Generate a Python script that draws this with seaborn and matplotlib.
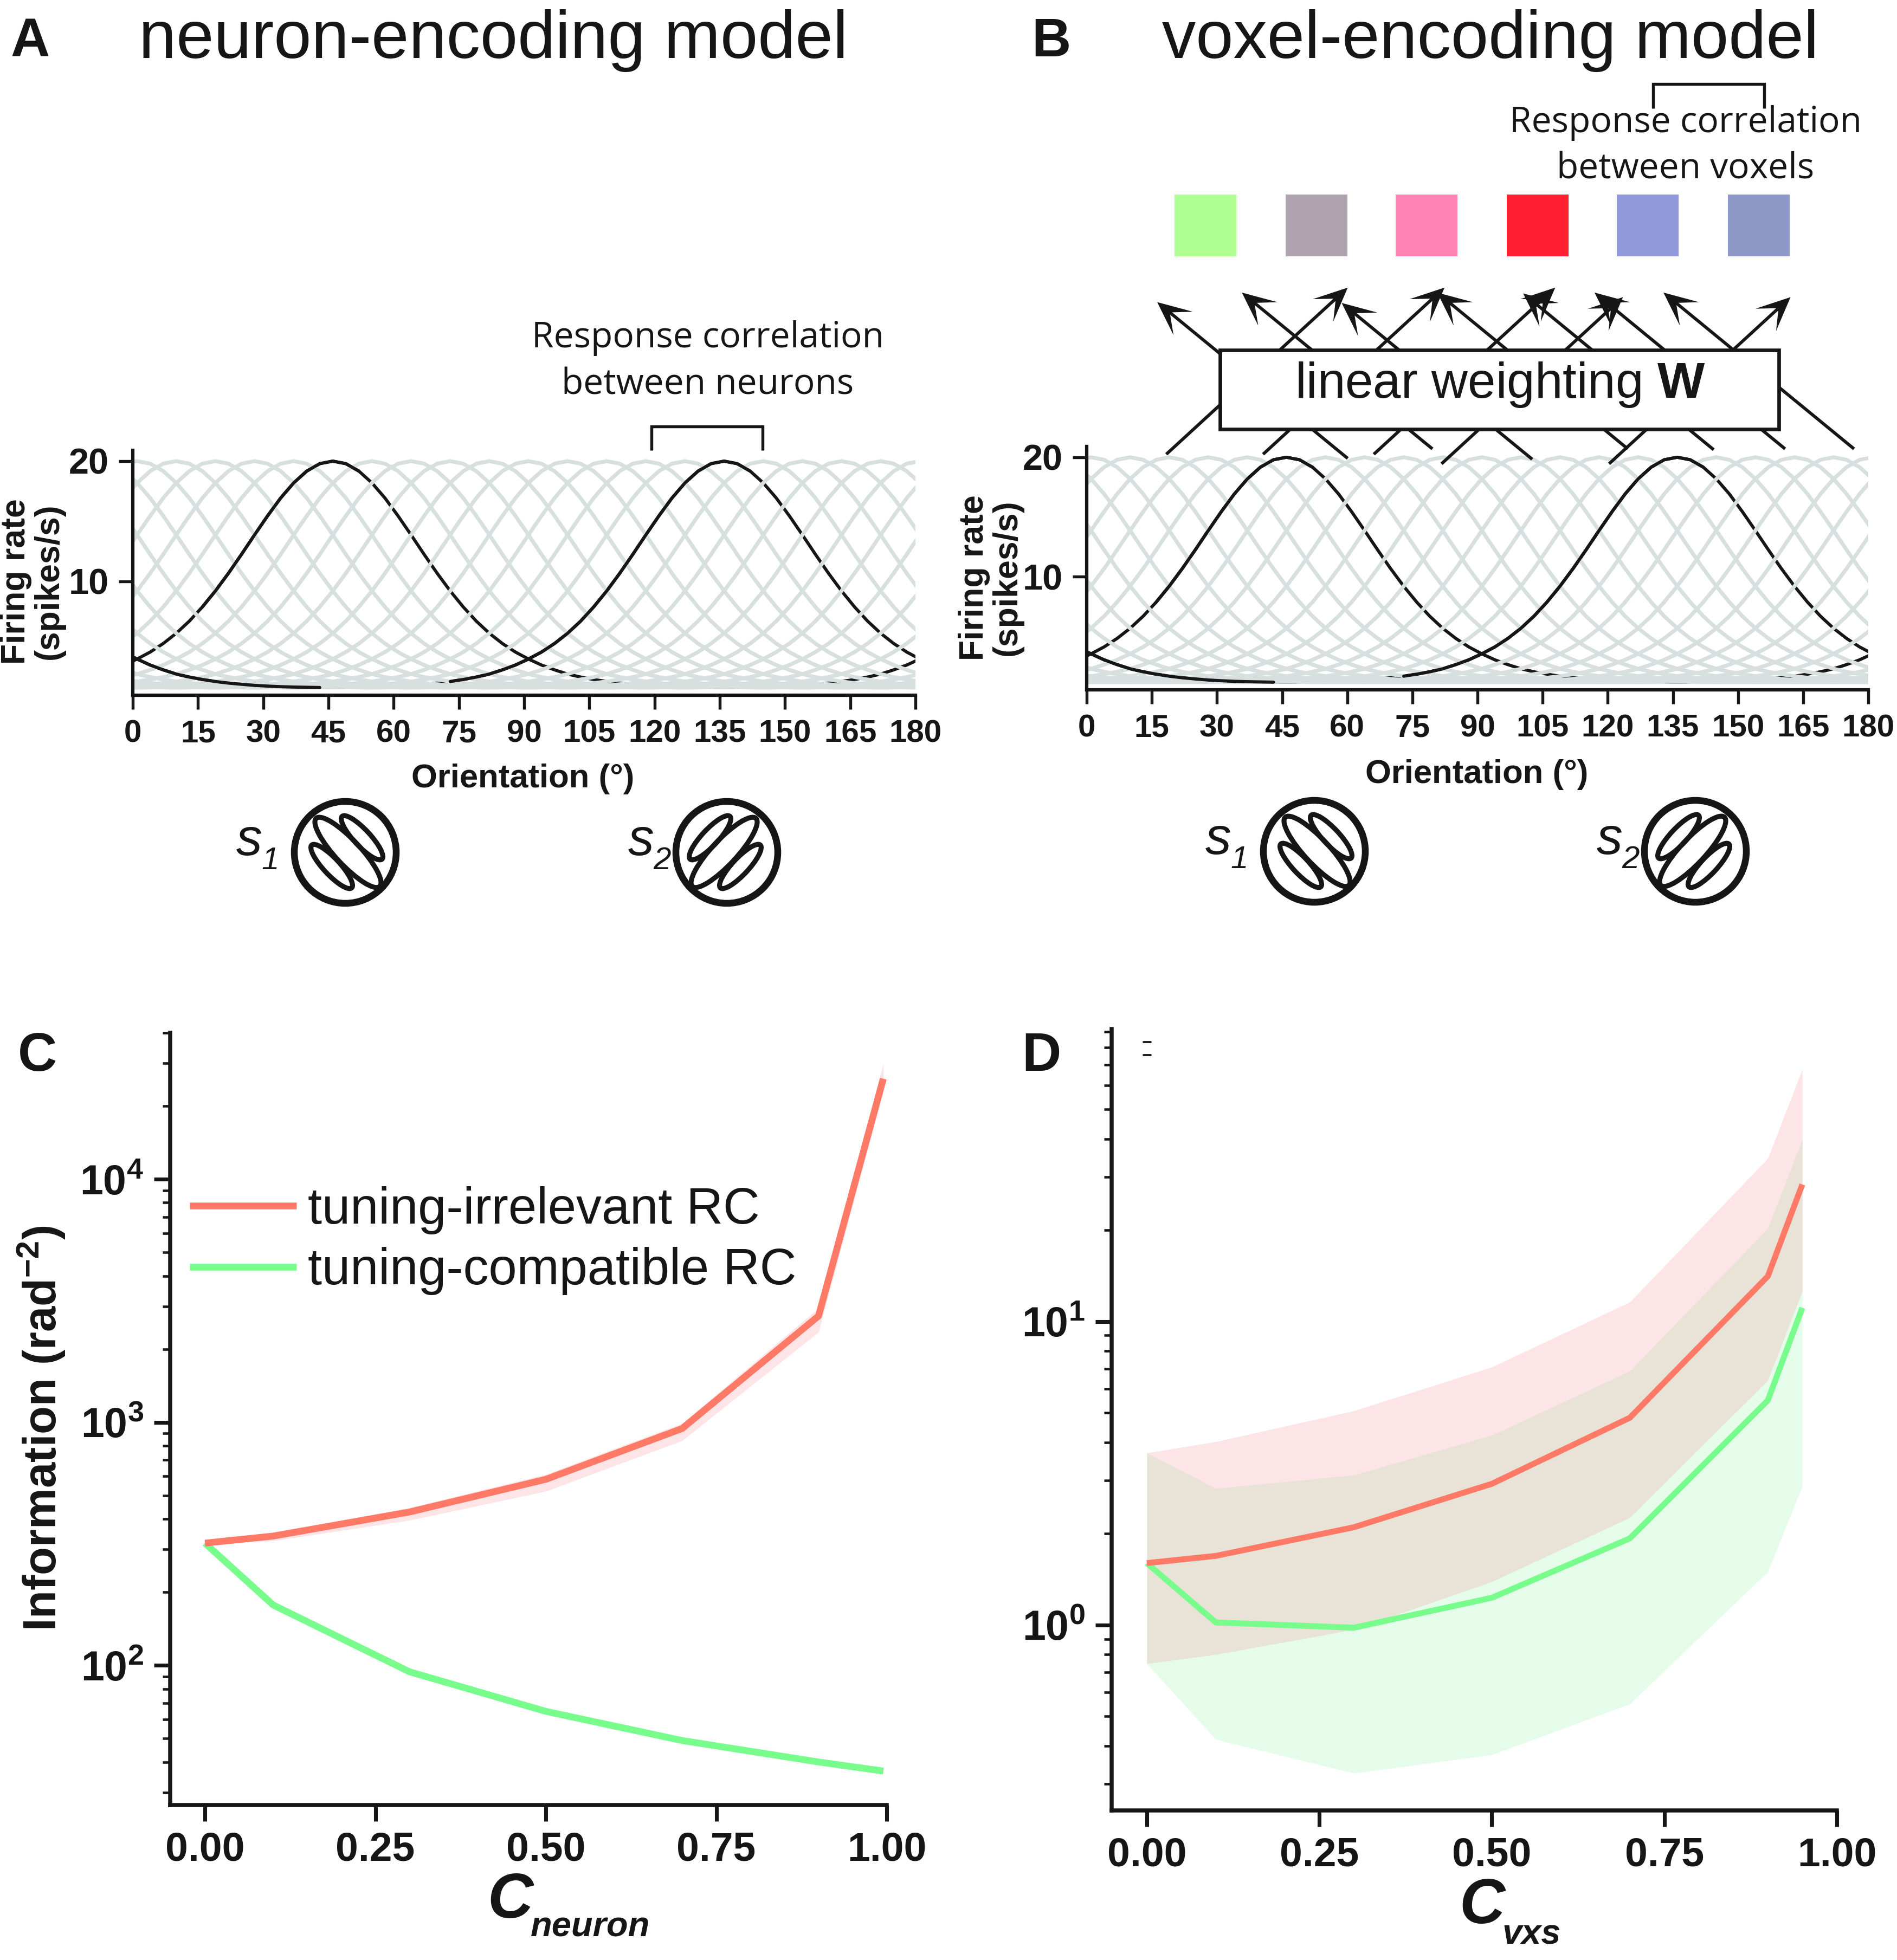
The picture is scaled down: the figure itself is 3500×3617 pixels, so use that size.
import numpy as np
import pandas as pd
import matplotlib
matplotlib.use("Agg")
import matplotlib.pyplot as plt
import seaborn as sns
from matplotlib.patches import Circle, Ellipse, Polygon, Rectangle
from matplotlib.ticker import LogLocator, NullFormatter

# values
tuning_offset = [0, 3, 6, 9, 12, 15, 18, 21, 24, 27, 30, 33, 36, 39, 42, 45,
                 48, 51, 54, 57, 60, 63, 66, 69, 72, 75, 78, 81, 84, 87, 90]
tuning_rate = [20.0, 19.79, 19.17, 18.19, 16.93, 15.45, 13.87, 12.25, 10.68, 9.21, 7.88,
               6.70, 5.69, 4.84, 4.13, 3.55, 3.05, 2.65, 2.30, 2.05, 1.85, 1.68, 1.55,
               1.45, 1.36, 1.30, 1.25, 1.22, 1.20, 1.18, 1.17]
gray_centres = [1, 10, 19, 28, 37, 55, 64, 73, 82, 91, 100, 109, 118, 127, 145, 154, 163, 172]
black_centres = [46, 136]
orientation_ticks = [0, 15, 30, 45, 60, 75, 90, 105, 120, 135, 150, 165, 180]

c_neuron = [0, 0.1, 0.3, 0.5, 0.7, 0.9, 0.995]
info_irrelevant = [318, 340, 427, 582, 942, 2735, 25900]
info_irrelevant_low = [318, 325, 395, 520, 840, 2350, 23000]
info_irrelevant_high = [318, 350, 445, 610, 990, 2950, 30000]
info_compatible = [318, 177, 94, 64.6, 49, 40, 36.7]
info_compatible_low = [318, 175, 93, 63.8, 48.4, 39.5, 36.2]
info_compatible_high = [318, 179, 95, 65.4, 49.6, 40.5, 37.2]

c_vxs = [0, 0.1, 0.3, 0.5, 0.7, 0.9, 0.95]
vxs_irrelevant = [1.6, 1.69, 2.1, 2.92, 4.82, 14.1, 28.3]
vxs_irrelevant_low = [0.746, 0.80, 0.966, 1.39, 2.26, 6.4, 12.6]
vxs_irrelevant_high = [3.69, 4.02, 5.08, 7.08, 11.6, 34.5, 68]
vxs_compatible = [1.6, 1.02, 0.98, 1.23, 1.93, 5.5, 11.1]
vxs_compatible_low = [0.746, 0.42, 0.325, 0.374, 0.55, 1.5, 2.88]
vxs_compatible_high = [3.69, 2.82, 3.12, 4.22, 6.87, 20.3, 39.8]

c_ticks = [0, 0.25, 0.5, 0.75, 1.0]
c_ticklabels = ["0.00", "0.25", "0.50", "0.75", "1.00"]
voxel_colors = ["#B0FF92", "#AFA4AF", "#FF82B2", "#FF1F33", "#9198DA", "#8F99C8"]

W, H = 3500, 3617
INK = "#161616"
GRAY = "#D7E0DE"
RED = "#FF7A66"
GREEN = "#78FC8C"

sns.set_theme(style="ticks")
plt.rcParams["font.family"] = ["Liberation Sans", "DejaVu Sans"]
plt.rcParams["mathtext.fontset"] = "custom"
plt.rcParams["mathtext.rm"] = "Liberation Sans"
plt.rcParams["mathtext.it"] = "Liberation Sans:italic"
plt.rcParams["mathtext.bf"] = "Liberation Sans:bold"
plt.rcParams["text.color"] = INK
plt.rcParams["axes.labelcolor"] = INK

fig = plt.figure(figsize=(W / 300, H / 300), dpi=300)


def px_axes(left, right, top, bottom):
    return fig.add_axes([left / W, 1 - bottom / H, (right - left) / W, (bottom - top) / H])


def curve_points(centre):
    # whole profile around the centre, repeated so it wraps over 0 and 180
    rate = np.array(tuning_rate[:0:-1] + tuning_rate)
    offset = np.array([-o for o in tuning_offset[:0:-1]] + tuning_offset)
    x = np.concatenate([centre + offset + s for s in (-180, 0, 180)])
    y = np.concatenate([rate, rate, rate])
    return x, y


def draw_curve(ax, x, y, color, lw, zorder):
    sns.lineplot(x=x, y=y, ax=ax, color=color, lw=lw, zorder=zorder,
                 estimator=None, sort=False, legend=False)


def tuning_panel(box, ylabel_xy, xlabel_xy):
    ax = px_axes(*box)
    for c in black_centres:
        x, y = curve_points(c)
        draw_curve(ax, x, y, INK, 1.4, 1)
    for c in gray_centres:
        x, y = curve_points(c)
        draw_curve(ax, x, y, GRAY, 1.7, 2)
    # parts of the black curves that lie over the gray ones
    for c, spans in zip(black_centres, [[(14, 52)], [(0, 44), (72, 142)]]):
        x, y = curve_points(c)
        for lo, hi in spans:
            keep = (x >= lo) & (x <= hi)
            draw_curve(ax, x[keep], y[keep], INK, 1.4, 3)
    ax.set_xlim(0, 180)
    ax.set_ylim(0.54, 20.9)
    ax.set_xticks(orientation_ticks)
    ax.set_yticks([10, 20])
    ax.tick_params(axis="both", length=6.2, width=1.3, color=INK, pad=4.5, labelcolor=INK)
    ax.set_xticklabels([str(t) for t in orientation_ticks], fontsize=14, fontweight="bold")
    ax.set_yticklabels(["10", "20"], fontsize=16, fontweight="bold")
    ax.set_xlabel("Orientation (°)", fontsize=14.8, fontweight="bold", va="center")
    ax.set_ylabel("Firing rate\n(spikes/s)", fontsize=15, fontweight="bold", linespacing=1.05, va="center")
    ax.xaxis.set_label_coords(*xlabel_xy, transform=overlay.transData)
    ax.yaxis.set_label_coords(*ylabel_xy, transform=overlay.transData)
    for s in ("left", "bottom"):
        ax.spines[s].set_linewidth(1.5)
        ax.spines[s].set_color(INK)
    sns.despine(ax=ax)
    return ax


def info_panel(box, x, lines, xlim, ylim, yticks, yticklabels, c_xy, sub, sub_xy, lw):
    ax = px_axes(*box)
    for y, low, high, fill, line, name in lines:
        ax.fill_between(x, low, high, color=fill, alpha=0.2, lw=0)
    for y, low, high, fill, line, name in lines:
        sns.lineplot(x=x, y=y, ax=ax, color=line, lw=lw, label=name, estimator=None,
                     sort=False, solid_capstyle="butt")
    ax.set_yscale("log")
    ax.set_xlim(*xlim)
    ax.set_ylim(*ylim)
    ax.set_xticks(c_ticks)
    ax.set_xticklabels(c_ticklabels, fontsize=18, fontweight="bold")
    ax.set_yticks(yticks)
    ax.set_yticklabels(yticklabels, fontsize=18.5)
    ax.yaxis.set_minor_locator(LogLocator(base=10, subs=(2, 3, 4, 5, 6, 7, 8, 9), numticks=12))
    ax.yaxis.set_minor_formatter(NullFormatter())
    ax.tick_params(axis="both", which="major", length=7.2, width=1.7, color=INK, pad=4.5, labelcolor=INK)
    ax.tick_params(axis="y", which="minor", length=3.4, width=1.1, color=INK)
    ax.set_xlabel("C", fontsize=28, fontweight="bold", style="italic", va="center")
    ax.xaxis.set_label_coords(*c_xy, transform=overlay.transData)
    overlay.text(*sub_xy, sub, fontsize=15.6, fontweight="bold", style="italic", ha="center", va="center")
    for s in ("left", "bottom"):
        ax.spines[s].set_linewidth(1.8)
        ax.spines[s].set_color(INK)
    sns.despine(ax=ax)
    return ax


def arrow(tail, head):
    tail, head = np.array(tail, float), np.array(head, float)
    u = (head - tail) / np.hypot(*(head - tail))
    n = np.array([-u[1], u[0]])
    overlay.plot([tail[0], (head - 20 * u)[0]], [tail[1], (head - 20 * u)[1]], color=INK, lw=1.4, zorder=2,
                 solid_capstyle="butt")
    pts = [head, head - 62 * u + 28 * n, head - 30 * u, head - 62 * u - 28 * n]
    overlay.add_patch(Polygon(pts, closed=True, fc=INK, ec="none", zorder=2))


def bracket(x0, x1, top, bottom):
    overlay.plot([x0, x0, x1, x1], [bottom, top, top, bottom], color=INK, lw=1.3, zorder=5,
                 solid_joinstyle="miter", solid_capstyle="butt")


def grating(cx, cy, mirror, digit):
    sign = -1 if mirror else 1
    overlay.add_patch(Circle((cx, cy), 94, fc="none", ec=INK, lw=3.0))
    for dx, dy, length, width in [(5, 0, 172, 46), (31, -27, 108, 30), (-25, 26, 108, 30)]:
        overlay.add_patch(Ellipse((cx + sign * dx, cy + dy), length, width, angle=sign * 47,
                                  fc="none", ec=INK, lw=2.2))
    shift = 19 if mirror else 0
    overlay.text(cx - 177 + shift, cy - 20, "s", fontsize=23, style="italic", ha="center", va="center")
    overlay.text(cx - 138 + shift, cy + 16, digit, fontsize=14, style="italic", ha="center", va="center")


overlay = fig.add_axes([0, 0, 1, 1], zorder=10)
overlay.set_xlim(0, W)
overlay.set_ylim(H, 0)
overlay.set_axis_off()
overlay.patch.set_alpha(0)

tuning_panel((245, 1689, 831, 1283), (60, 1073), (965, 1437))
tuning_panel((2005, 3447, 824, 1273), (1828, 1066), (2725, 1430))

ax_c = info_panel(
    (314, 1636, 1906, 3331), c_neuron,
    [(info_compatible, info_compatible_low, info_compatible_high, "#7DF09B", GREEN, "tuning-compatible RC"),
     (info_irrelevant, info_irrelevant_low, info_irrelevant_high, "#F57D87", RED, "tuning-irrelevant RC")],
    (-0.051, 1.0), (26.6, 40000), [100, 1000, 10000],
    [r"$\mathbf{10^{2}}$", r"$\mathbf{10^{3}}$", r"$\mathbf{10^{4}}$"],
    (941, 3509), "neuron", (1089, 3557), 3.0)
ax_c.set_ylabel(r"Information (rad$\mathbf{^{-2}}$)", fontsize=20.4, fontweight="bold", va="center")
ax_c.yaxis.set_label_coords(76, 2636, transform=overlay.transData)
handles, labels = ax_c.get_legend_handles_labels()
ax_c.legend(handles[::-1], labels[::-1], frameon=False, fontsize=22.5, handlelength=2.1,
            handletextpad=0.23, labelspacing=0.25, borderpad=0, borderaxespad=0,
            loc="upper left", bbox_to_anchor=(350, 2189), bbox_transform=overlay.transData)

ax_d = info_panel(
    (2051, 3389, 1899, 3341), c_vxs,
    [(vxs_compatible, vxs_compatible_low, vxs_compatible_high, "#7DF09B", GREEN, "tuning-compatible RC"),
     (vxs_irrelevant, vxs_irrelevant_low, vxs_irrelevant_high, "#F57D87", RED, "tuning-irrelevant RC")],
    (-0.051, 1.0), (0.245, 92), [1, 10],
    [r"$\mathbf{10^{0}}$", r"$\mathbf{10^{1}}$"],
    (2734, 3518), "vxs", (2826, 3570), 2.6)
ax_d.get_legend().remove()

# titles and panel letters
for x, y, s in [(20, 78, "A"), (1903, 78, "B"), (33, 1950, "C"), (1885, 1950, "D")]:
    overlay.text(x, y, s, fontsize=24, fontweight="bold", ha="left", va="center")
overlay.text(910, 75, "neuron-encoding model", fontsize=29.9, ha="center", va="center")
overlay.text(2750, 75, "voxel-encoding model", fontsize=29.9, ha="center", va="center")

# response correlation notes
note_font = dict(family=["Open Sans", "DejaVu Sans"], fontsize=15.8, ha="center", va="center", linespacing=1.4)
overlay.text(1306, 667, "Response correlation\nbetween neurons", **note_font)
overlay.text(3110, 270, "Response correlation\nbetween voxels", **note_font)
bracket(1202, 1407, 787, 831)
bracket(3050, 3255, 155, 200)

# voxel squares
for left, color in zip([2167, 2372, 2575, 2780, 2983, 3188], voxel_colors):
    overlay.add_patch(Rectangle((left, 359), 114, 114, fc=color, ec="none"))

# weighting arrows, zoomed coords converted to pixels
left_heads = [(345, 598), (485, 575), (650, 600), (808, 575), (950, 577), (1068, 575), (1182, 575)]
right_tails = [(360, 965), (520, 965), (703, 965), (815, 988), (1092, 988)]
for zx, zy in left_heads:
    arrow((1750 + (zx + 315) / 0.896, 100 + (zy + 377) / 1.307), (1750 + zx / 0.896, 100 + zy / 1.307))
for zx, zy in right_tails:
    arrow((1750 + zx / 0.896, 100 + zy / 1.307), (1750 + (zx + 300) / 0.896, 100 + (zy - 402) / 1.307))
overlay.add_patch(Rectangle((2251, 646), 1031, 146, fc="white", ec=INK, lw=1.6, zorder=3))
overlay.text(2768, 710, r"linear weighting $\mathbf{W}$", fontsize=22.2, ha="center", va="center", zorder=4)

# stimuli
grating(637, 1573, False, "1")
grating(1341, 1573, True, "2")
grating(2425, 1571, False, "1")
grating(3128, 1571, True, "2")

# two stray ticks left in panel D
for y in (1923, 1947):
    overlay.plot([2110, 2123], [y, y], color=INK, lw=0.9)

fig.savefig("out.png", dpi=300)
